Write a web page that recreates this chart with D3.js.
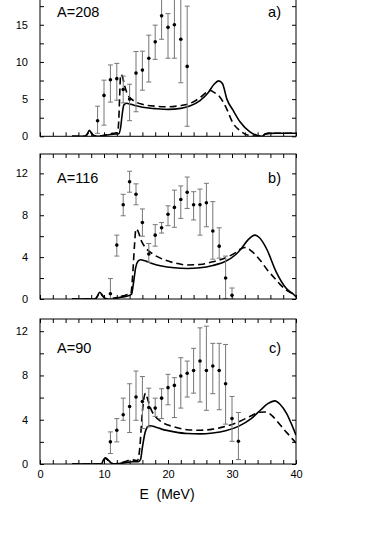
<!DOCTYPE html>
<html>
<head>
<meta charset="utf-8">
<title>Strength functions</title>
<script src="https://cdn.jsdelivr.net/npm/d3@7"></script>
<style>
	body { margin: 0; background: #fff; }
	text { font-family: "Liberation Sans", Arial, Helvetica, sans-serif; fill: #000; }
	.frame { fill: none; stroke: #000; stroke-width: 1px; }
	.tick line { stroke: #000; }
	.errbar { stroke: #777; stroke-width: 1px; fill: none; }
	.dot { fill: #000; }
	.solid { fill: none; stroke: #000; stroke-width: 1.6px; }
	.dashed { fill: none; stroke: #000; stroke-width: 1.6px; stroke-dasharray: 7,4; }
</style>
</head>
<body>
<script>
// ---- panel a) A=208 : measured points (E in MeV)
var energyA = [9, 10, 11, 12, 13, 14, 15, 16, 17, 18, 19, 20, 21, 22, 23];
var valueA  = [2.1, 5.5, 7.6, 7.75, 6.3, 5.0, 8.5, 8.9, 10.5, 12.7, 16.2, 14.65, 15.0, 13.05, 9.4];
var lowA    = [0.4, 1.5, 4.6, 4.85, 4.5, 2.1, 3.3, 6.2, 7.3, 10.35, 13.05, 10.5, 10.5, 7.2, 1.35];
var highA   = [4.05, 7.55, 9.6, 9.8, 8.1, 7.0, 11.4, 11.45, 13.6, 14.95, 20, 16.5, 20, 20, 17.5];

// ---- panel b) A=116
var energyB = [11, 12, 13, 14, 15, 16, 17, 18, 19, 20, 21, 22, 23, 24, 25, 26, 27, 28, 29, 30];
var valueB  = [0.5, 5.15, 9.0, 11.2, 10.0, 7.3, 4.3, 6.1, 6.8, 8.1, 8.75, 9.5, 10.2, 9.0, 9.0, 9.2, 6.5, 5.05, 2.0, 0.35];
var lowB    = [0.05, 4.1, 7.95, 10.2, 9.0, 6.0, 3.5, 5.05, 6.3, 7.0, 6.85, 7.7, 8.65, 7.55, 6.1, 6.9, 3.8, 3.9, 0.05, 0.0];
var highB   = [1.95, 6.1, 10.0, 12.2, 11.0, 8.6, 5.3, 7.1, 7.3, 8.9, 10.4, 10.8, 11.65, 10.25, 10.5, 11.05, 9.3, 6.8, 4.1, 1.05];

// ---- panel c) A=90
var energyC = [11, 12, 13, 14, 15, 16, 17, 18, 19, 20, 21, 22, 23, 24, 25, 26, 27, 28, 29, 30, 31];
var valueC  = [2.0, 3.05, 4.45, 5.2, 6.05, 5.65, 5.1, 5.05, 5.95, 6.9, 7.1, 7.95, 8.2, 8.45, 9.3, 8.45, 8.85, 8.45, 7.25, 4.1, 2.05];
var lowC    = [0.95, 2.0, 3.95, 2.85, 3.95, 3.2, 3.35, 4.3, 4.1, 5.35, 4.2, 5.05, 6.05, 6.4, 5.6, 4.85, 6.35, 4.9, 3.6, 2.05, 0.4];
var highC   = [2.9, 4.1, 5.95, 7.25, 8.4, 7.9, 6.85, 5.95, 6.8, 8.1, 7.8, 9.6, 9.3, 10.45, 12.3, 12.45, 10.9, 10.9, 10.8, 6.1, 4.65];

// ---- calculated curves, [E, value]
var solidA = [[5,0],[7,0],[7.4,0.3],[7.7,0.8],[8,0.5],[8.4,0.1],[9,0],[10,0.1],[11,0.25],[11.8,0.3],[12.3,0.35],[12.6,1.2],[12.85,3.0],[13.1,4.2],[13.5,4.45],[14.2,4.3],[15,4.1],[16,3.9],[18,3.72],[20,3.62],[22,3.75],[23.5,4.1],[25,4.8],[26.3,5.9],[27.2,7.0],[27.9,7.45],[28.5,7.1],[29.2,5.0],[30.2,3.45],[31.25,1.95],[32.8,0.6],[34,0.1],[34.7,0.0],[35.2,0.3],[35.7,0.4],[37,0.42],[40,0.42]];
var dashA  = [[5,0],[7,0],[7.4,0.3],[7.7,0.75],[8,0.45],[8.4,0.1],[9,0.05],[10,0.15],[11,0.35],[11.8,0.45],[12.1,0.5],[12.3,2.0],[12.45,5.5],[12.6,8.3],[12.85,8.1],[13.2,6.9],[13.6,5.8],[14.3,5.0],[15,4.6],[16,4.3],[18,4.05],[20,3.98],[22,4.15],[23.5,4.45],[25,5.2],[26,5.9],[26.6,6.15],[27.2,5.9],[28.1,5.3],[29,4.0],[30.2,1.7],[31.2,0.8],[32.3,0.2],[33.5,0.05],[34.7,0.05],[35.2,0.3],[35.7,0.4],[37,0.42],[40,0.42]];

var solidB = [[5,0],[8.6,0],[9,0.3],[9.3,0.65],[9.7,0.4],[10.2,0.05],[11,0],[12,0.1],[13,0.2],[13.8,0.3],[14.3,0.45],[14.6,1.5],[14.95,3.0],[15.3,3.6],[15.7,3.75],[16.4,3.65],[17.5,3.4],[19,3.15],[21,2.98],[23,2.92],[25,2.98],[27,3.2],[29,3.6],[30.5,4.2],[31.5,4.85],[32.5,5.65],[33.6,6.1],[34.3,5.85],[35.4,4.8],[36.9,2.6],[38.5,1.0],[39.6,0.45],[40,0.2]];
var dashB  = [[5,0],[8.6,0],[9,0.3],[9.3,0.6],[9.7,0.35],[10.2,0.05],[11,0],[12,0.15],[13,0.3],[13.8,0.45],[14.2,0.5],[14.45,2.0],[14.75,5.0],[15,6.7],[15.3,6.5],[15.8,5.6],[16.5,4.9],[17.5,4.35],[19,3.85],[21,3.45],[23,3.25],[25,3.3],[27,3.55],[29,3.95],[30.5,4.4],[31.4,4.8],[32.1,4.92],[33,4.6],[34.4,3.7],[35.5,2.8],[36.5,2.1],[37.5,1.4],[38.5,0.85],[39.6,0.45],[40,0.3]];

var solidC = [[5,0],[9.6,0],[9.9,0.35],[10.2,0.55],[10.6,0.4],[11.1,0.1],[11.6,0],[12.5,0.05],[13.5,0.15],[14.5,0.2],[15.3,0.2],[15.7,0.4],[16,1.5],[16.4,2.8],[16.8,3.35],[17.2,3.45],[18,3.35],[19,3.15],[21,2.9],[23,2.75],[25,2.72],[27,2.8],[29,3.0],[31,3.4],[33,4.1],[34.5,4.9],[35.6,5.45],[36.7,5.7],[37.5,5.4],[38.5,4.6],[39.3,3.6],[40,2.6]];
var dashC  = [[5,0],[9.6,0],[9.9,0.3],[10.2,0.5],[10.6,0.35],[11.1,0.1],[11.6,0],[12.5,0.1],[13.5,0.25],[14.2,0.4],[14.7,0.35],[15.2,0.3],[15.6,1.5],[15.9,4.0],[16.2,5.8],[16.5,6.4],[16.8,5.9],[17.3,5.0],[18,4.3],[19,3.8],[21,3.35],[23,3.1],[25,3.05],[27,3.15],[29,3.4],[31,3.8],[33,4.35],[34.3,4.68],[35.2,4.7],[36.2,4.4],[37,3.9],[38,3.2],[39,2.55],[40,1.9]];

// ---- axis labels
var xTickLabels = [0, 10, 20, 30, 40];
var yLabelsA = [0, 5, 10, 15];
var yLabelsBC = [0, 4, 8, 12];

var width = 368, height = 545;
var left = 40, right = 296, panelH = 145;

var panels = [
	{ id: "a", name: "A=208", tag: "a)", top: -8.7, yMax: 19.5, yStep: 2.5, labels: yLabelsA, nameAt: 16,
		e: energyA, v: valueA, lo: lowA, hi: highA, solid: solidA, dashed: dashA, xLabels: false },
	{ id: "b", name: "A=116", tag: "b)", top: 154, yMax: 13.85, yStep: 2, labels: yLabelsBC, nameAt: 11.05,
		e: energyB, v: valueB, lo: lowB, hi: highB, solid: solidB, dashed: dashB, xLabels: false },
	{ id: "c", name: "A=90", tag: "c)", top: 319, yMax: 13.1, yStep: 2, labels: yLabelsBC, nameAt: 10,
		e: energyC, v: valueC, lo: lowC, hi: highC, solid: solidC, dashed: dashC, xLabels: true }
];

var svg = d3.select("body").append("svg")
	.attr("width", width)
	.attr("height", height);

var x = d3.scaleLinear().domain([0, 40]).range([left, right]);
var xTicks = d3.range(0, 40.001, 2);

panels.forEach(function (p) {
	var bottom = p.top + panelH;
	var y = d3.scaleLinear().domain([0, p.yMax]).range([bottom, p.top]);
	var yTicks = d3.range(0, p.yMax + 0.001, p.yStep);

	var g = svg.append("g").attr("class", "panel-" + p.id);

	g.append("clipPath").attr("id", "clip-" + p.id)
		.append("rect")
		.attr("x", left).attr("y", p.top)
		.attr("width", right - left).attr("height", panelH);

	// ticks pointing inward on all four sides
	var bAxis = d3.axisBottom(x).tickValues(xTicks).tickSize(-4).tickPadding(6)
		.tickFormat(function (d) { return p.xLabels && xTickLabels.indexOf(d) >= 0 ? d : ""; });
	g.append("g").attr("transform", "translate(0," + bottom + ")").call(bAxis)
		.call(function (s) { s.select(".domain").remove(); s.selectAll("text").style("font-size", "11px"); });

	g.append("g").attr("transform", "translate(0," + p.top + ")")
		.call(d3.axisTop(x).tickValues(xTicks).tickSize(-4).tickFormat(""))
		.call(function (s) { s.select(".domain").remove(); });

	var lAxis = d3.axisLeft(y).tickValues(yTicks).tickSize(-4).tickPadding(12)
		.tickFormat(function (d) { return p.labels.indexOf(d) >= 0 ? d : ""; });
	g.append("g").attr("transform", "translate(" + left + ",0)").call(lAxis)
		.call(function (s) { s.select(".domain").remove(); s.selectAll("text").style("font-size", "11px"); });

	g.append("g").attr("transform", "translate(" + right + ",0)")
		.call(d3.axisRight(y).tickValues(yTicks).tickSize(-4).tickFormat(""))
		.call(function (s) { s.select(".domain").remove(); });

	g.selectAll(".tick text").attr("fill", "#000");
	g.selectAll(".tick line").attr("stroke", "#000");

	var plot = g.append("g").attr("clip-path", "url(#clip-" + p.id + ")");

	var line = d3.line()
		.x(function (d) { return x(d[0]); })
		.y(function (d) { return y(d[1]); })
		.curve(d3.curveMonotoneX);

	plot.append("path").datum(p.solid).attr("class", "solid").attr("d", line);
	plot.append("path").datum(p.dashed).attr("class", "dashed").attr("d", line);

	// error bars
	var idx = d3.range(p.e.length);
	var bars = plot.selectAll(".bar").data(idx).enter().append("g").attr("class", "bar");
	bars.append("line").attr("class", "errbar")
		.attr("x1", function (i) { return x(p.e[i]); })
		.attr("x2", function (i) { return x(p.e[i]); })
		.attr("y1", function (i) { return y(p.lo[i]); })
		.attr("y2", function (i) { return y(p.hi[i]); });
	bars.append("line").attr("class", "errbar")
		.attr("x1", function (i) { return x(p.e[i]) - 2.5; })
		.attr("x2", function (i) { return x(p.e[i]) + 2.5; })
		.attr("y1", function (i) { return y(p.lo[i]); })
		.attr("y2", function (i) { return y(p.lo[i]); });
	bars.append("line").attr("class", "errbar")
		.attr("x1", function (i) { return x(p.e[i]) - 2.5; })
		.attr("x2", function (i) { return x(p.e[i]) + 2.5; })
		.attr("y1", function (i) { return y(p.hi[i]); })
		.attr("y2", function (i) { return y(p.hi[i]); });
	bars.append("circle").attr("class", "dot")
		.attr("cx", function (i) { return x(p.e[i]); })
		.attr("cy", function (i) { return y(p.v[i]); })
		.attr("r", 1.8);

	g.append("rect").attr("class", "frame")
		.attr("x", left).attr("y", p.top)
		.attr("width", right - left).attr("height", panelH);

	g.append("text")
		.attr("x", 57).attr("y", y(p.nameAt))
		.style("font-size", "14.5px")
		.text(p.name);
	g.append("text")
		.attr("x", 281).attr("y", y(p.nameAt))
		.attr("text-anchor", "end")
		.style("font-size", "14.5px")
		.text(p.tag);
});

svg.append("text")
	.attr("x", 167).attr("y", 499)
	.attr("text-anchor", "middle")
	.style("font-size", "14px")
	.attr("xml:space", "preserve")
	.style("white-space", "pre")
	.text("E  (MeV)");
</script>
</body>
</html>
